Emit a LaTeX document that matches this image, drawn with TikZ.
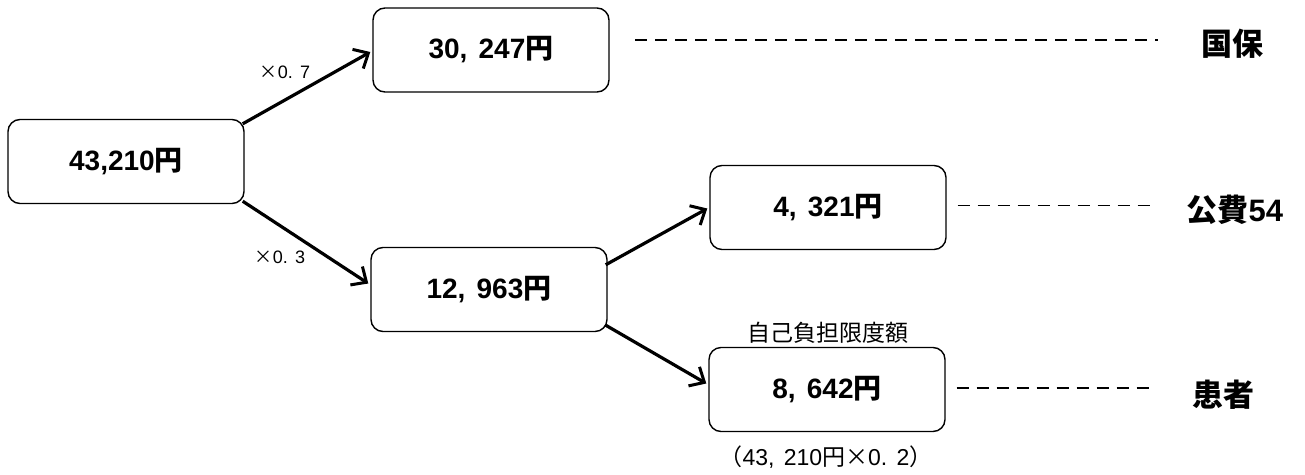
\documentclass[tikz,border=0pt]{standalone}
\usepackage{fontspec}
\setmainfont{Noto Sans CJK JP}
\newfontfamily\latn{Liberation Sans}
\usetikzlibrary{arrows.meta,calc}
\newcommand{\gsp}{\hspace{0.4em}}
\begin{document}
\begin{tikzpicture}[x=1pt,y=-1pt,
  box/.style={draw, line width=1.4pt, rounded corners=12pt, minimum width=236pt, minimum height=84pt, font=\fontsize{28}{32}\selectfont\bfseries},
  arr/.style={line width=3.2pt, -{Straight Barb[length=12pt,width=22pt,line width=3pt]}},
  lead/.style={line width=1.4pt, dash pattern=on 12pt off 8pt},
  lab/.style={font=\fontsize{31}{35}\selectfont\bfseries, anchor=west},
  small/.style={font=\fontsize{18}{22}\selectfont},
  note/.style={font=\fontsize{23}{27}\selectfont}]
\useasboundingbox (0,0) rectangle (1305,474);
\node[box] (A) at (126,161.5) {{\latn 43,210}円};
\node[box] (B) at (491,50) {{\latn 30,\gsp 247}円};
\node[box] (C) at (489,289.5) {{\latn 12,\gsp 963}円};
\node[box] (D) at (828,207.5) {{\latn 4,\gsp 321}円};
\node[box] (E) at (827,389.5) {{\latn 8,\gsp 642}円};
\node[lab] (L1) at (1198,44) {国保};
\node[lab] (L2) at (1183,210) {公費{\latn 54}};
\node[lab] (L3) at (1189,395) {患者};
\node[small] (m1) at (285,72) {×{\latn 0.\gsp 7}};
\node[small] (m2) at (280,257) {×{\latn 0.\gsp 3}};
\node[note] (n1) at (828,333) {自己負担限度額};
\node[note] (n2) at (826,457) {（{\latn 43,\gsp 210}円×{\latn 0.\gsp 2}）};
\draw[arr] ($(A.north east)+(-2,5)$) -- ($(B.west)+(-2,2)$);
\draw[arr] ($(A.south east)+(-2,-3)$) -- ($(C.west)+(-2,-6)$);
\draw[arr] ($(C.north east)+(-2,18)$) -- ($(D.west)+(-2,1)$);
\draw[arr] ($(C.south east)+(-2,-7)$) -- ($(E.west)+(-2,-6)$);
\coordinate (b1) at (635,40);
\coordinate (b2) at (1158,40);
\coordinate (d2) at (1157,205.5);
\coordinate (e2) at (1155,388);
\draw[lead] (b1) -- (b2);
\draw[lead] ($(D.east)+(11,-2)$) -- (d2);
\draw[lead] ($(E.east)+(11,-1.5)$) -- (e2);
\end{tikzpicture}
\end{document}
